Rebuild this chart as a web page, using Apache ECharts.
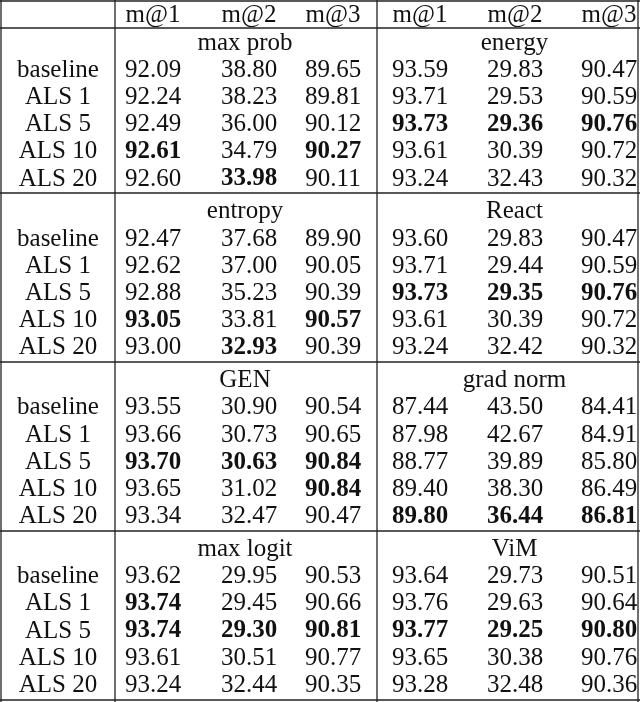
<!DOCTYPE html>
<html><head><meta charset="utf-8">
<script src="https://cdn.jsdelivr.net/npm/echarts@6/dist/echarts.min.js"></script>
<style>html,body{margin:0;padding:0;background:#fff}#c{width:640px;height:702px}</style>
</head><body><div id="c"></div>
<script>
const rowLabels = ['baseline','ALS 1','ALS 5','ALS 10','ALS 20'];
const colLabels = ['m@1','m@2','m@3','m@1','m@2','m@3'];
const methods = [['max prob','energy'],['entropy','React'],['GEN','grad norm'],['max logit','ViM']];
const maxProb = [[92.09,38.80,89.65],[92.24,38.23,89.81],[92.49,36.00,90.12],[92.61,34.79,90.27],[92.60,33.98,90.11]];
const energy = [[93.59,29.83,90.47],[93.71,29.53,90.59],[93.73,29.36,90.76],[93.61,30.39,90.72],[93.24,32.43,90.32]];
const entropy = [[92.47,37.68,89.90],[92.62,37.00,90.05],[92.88,35.23,90.39],[93.05,33.81,90.57],[93.00,32.93,90.39]];
const react = [[93.60,29.83,90.47],[93.71,29.44,90.59],[93.73,29.35,90.76],[93.61,30.39,90.72],[93.24,32.42,90.32]];
const gen = [[93.55,30.90,90.54],[93.66,30.73,90.65],[93.70,30.63,90.84],[93.65,31.02,90.84],[93.34,32.47,90.47]];
const gradNorm = [[87.44,43.50,84.41],[87.98,42.67,84.91],[88.77,39.89,85.80],[89.40,38.30,86.49],[89.80,36.44,86.81]];
const maxLogit = [[93.62,29.95,90.53],[93.74,29.45,90.66],[93.74,29.30,90.81],[93.61,30.51,90.77],[93.24,32.44,90.35]];
const vim = [[93.64,29.73,90.51],[93.76,29.63,90.64],[93.77,29.25,90.80],[93.65,30.38,90.76],[93.28,32.48,90.36]];
// bold cells: [row, col]
const boldMaxProb=[[3,0],[4,1],[3,2]], boldEnergy=[[2,0],[2,1],[2,2]];
const boldEntropy=[[3,0],[4,1],[3,2]], boldReact=[[2,0],[2,1],[2,2]];
const boldGen=[[2,0],[2,1],[2,2],[3,2]], boldGradNorm=[[4,0],[4,1],[4,2]];
const boldMaxLogit=[[1,0],[2,0],[2,1],[2,2]], boldVim=[[2,0],[2,1],[2,2]];

const blocks=[[maxProb,energy,boldMaxProb,boldEnergy],[entropy,react,boldEntropy,boldReact],[gen,gradNorm,boldGen,boldGradNorm],[maxLogit,vim,boldMaxLogit,boldVim]];

// layout (styling)
const colX=[58,153,249,333,420,515,609];
const rowY=(b,k)=>42+b*168.8+k*27.2;
const texts=[];
colLabels.forEach((c,i)=>texts.push([colX[i+1],14,c,0]));
blocks.forEach((bl,b)=>{
  texts.push([(colX[1]+colX[3])/2+2,rowY(b,0),methods[b][0],0]);
  texts.push([(colX[4]+colX[6])/2,rowY(b,0),methods[b][1],0]);
  rowLabels.forEach((r,i)=>{
    texts.push([colX[0],rowY(b,i+1),r,0]);
    for(let s=0;s<2;s++){
      const vals=bl[s], bold=bl[s+2];
      vals[i].forEach((v,j)=>{
        const isB=bold.some(p=>p[0]===i&&p[1]===j)?1:0;
        texts.push([colX[1+s*3+j],rowY(b,i+1),v.toFixed(2),isB]);
      });
    }
  });
});
const lines=[[0,1,640,1],[0,28,640,28],[0,193,640,193],[0,362,640,362],[0,531,640,531],[0,700,640,700],
  [1,0,1,702],[115,0,115,702],[377,0,377,702],[638,0,638,702]];

const chart=echarts.init(document.getElementById('c'));
chart.setOption({
  animation:false,
  grid:{left:0,right:0,top:0,bottom:0},
  xAxis:{type:'value',min:0,max:640,show:false},
  yAxis:{type:'value',min:0,max:702,inverse:true,show:false},
  series:[
    {type:'custom',data:lines,renderItem:(p,api)=>{
      const a=api.coord([api.value(0),api.value(1)]),b=api.coord([api.value(2),api.value(3)]);
      return {type:'line',shape:{x1:a[0],y1:a[1],x2:b[0],y2:b[1]},style:{stroke:'#222',lineWidth:1.3}};
    }},
    {type:'custom',data:texts,dimensions:['x','y','t','b'],renderItem:(p,api)=>{
      const d=texts[p.dataIndex];
      const c=api.coord([d[0],d[1]+1]);
      return {type:'text',x:c[0],y:c[1],style:{text:d[2],fill:'#111',align:'center',verticalAlign:'middle',
        font:(d[3]?'bold ':'')+'25px "Liberation Serif", serif'}};
    }}
  ]
});
</script></body></html>
